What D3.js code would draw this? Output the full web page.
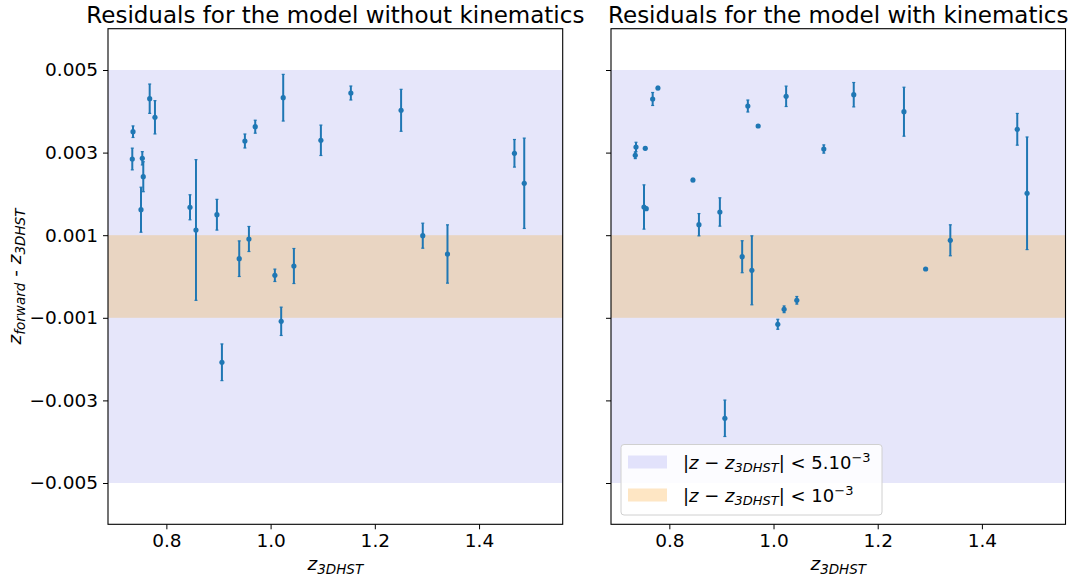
<!DOCTYPE html>
<html>
<head>
<meta charset="utf-8">
<script src="https://cdn.jsdelivr.net/npm/d3@7"></script>
<style>
  body { margin: 0; background: #fff; }
  svg { display: block; font-family: "DejaVu Sans", sans-serif; }
</style>
</head>
<body>
<svg id="chart" width="1077" height="581"></svg>
<script>
// ---- data ----
const zValues = [0.7346, 0.7360, 0.7513, 0.7538, 0.7557, 0.7680, 0.7781, 0.8453, 0.8568, 0.8970,
  0.9066, 0.9398, 0.9507, 0.9584, 0.9705, 1.0082, 1.0203, 1.0242, 1.0447, 1.0965,
  1.1540, 1.2504, 1.2920, 1.3394, 1.4679, 1.4867];

const residNoKin = [0.002845, 0.003506, 0.001617, 0.002862, 0.002416, 0.004305, 0.003855, 0.001676, 0.001126, 0.001496,
  -0.002077, 0.000431, 0.003281, 0.000908, 0.003627, 0.000029, -0.001085, 0.004329, 0.000254, 0.003298,
  0.004443, 0.004024, 0.000988, 0.000545, 0.002983, 0.002257];
const errNoKin = [0.000263, 0.000140, 0.000545, 0.000161, 0.000363, 0.000355, 0.000403, 0.000303, 0.001703, 0.000372,
  0.000444, 0.000431, 0.000169, 0.000303, 0.000157, 0.000150, 0.000343, 0.000565, 0.000424, 0.000368,
  0.000169, 0.000508, 0.000303, 0.000706, 0.000334, 0.001094];

const residKin = [0.002935, 0.003136, 0.001683, 0.003104, 0.001642, 0.004298, 0.004564, 0.002337, 0.001254, 0.001562,
  -0.003433, 0.000479, 0.004128, 0.000150, 0.003644, -0.001157, -0.000794, 0.004363, -0.000576, 0.003087,
  0.004402, 0.003990, 0.000182, 0.000877, 0.003564, 0.002015];
const errKin = [0.000080, 0.000114, 0.000536, 0.000030, 0.000030, 0.000157, 0.000040, 0.000040, 0.000270, 0.000343,
  0.000441, 0.000387, 0.000145, 0.000835, 0.000030, 0.000121, 0.000081, 0.000247, 0.000092, 0.000100,
  0.000295, 0.000593, 0.000030, 0.000375, 0.000384, 0.001363];

const xTicks = [0.8, 1.0, 1.2, 1.4];
const yTicks = [0.005, 0.003, 0.001, -0.001, -0.003, -0.005];
const titles = ["Residuals for the model without kinematics", "Residuals for the model with kinematics"];
const bandOuter = 0.005;
const bandInner = 0.001;

// ---- layout ----
const svg = d3.select("#chart");
const plotTop = 28.7, plotBottom = 524.3;
const panels = [
  { x0: 108, x1: 562.7, y: residNoKin, e: errNoKin, title: titles[0], labels: true },
  { x0: 611, x1: 1065.5, y: residKin, e: errKin, title: titles[1], labels: false }
];
const blue = "#1f77b4";
const lavender = "#e6e6fa";
const bandOrange = "#e9d5c2";
const fs = 18.5, subFs = 13.5;

const y = d3.scaleLinear().domain([-0.006, 0.006]).range([plotBottom, plotTop]);

panels.forEach((p, pi) => {
  const x = d3.scaleLinear().domain([0.688, 1.5605]).range([p.x0, p.x1]);
  const g = svg.append("g");

  // bands
  g.append("rect").attr("x", p.x0).attr("width", p.x1 - p.x0)
    .attr("y", y(bandOuter)).attr("height", y(-bandOuter) - y(bandOuter)).attr("fill", lavender);
  g.append("rect").attr("x", p.x0).attr("width", p.x1 - p.x0)
    .attr("y", y(bandInner)).attr("height", y(-bandInner) - y(bandInner)).attr("fill", bandOrange);

  // error bars
  const pts = zValues.map((z, i) => ({ z, v: p.y[i], e: p.e[i] }));
  const eb = g.append("g");
  eb.selectAll("line.err").data(pts).join("line").attr("class", "err")
    .attr("x1", d => x(d.z)).attr("x2", d => x(d.z))
    .attr("y1", d => y(d.v - d.e)).attr("y2", d => y(d.v + d.e))
    .attr("stroke", blue).attr("stroke-width", 2);
  ["lo", "hi"].forEach(k => {
    eb.selectAll("line.cap" + k).data(pts).join("line").attr("class", "cap" + k)
      .attr("x1", d => x(d.z) - 1.5).attr("x2", d => x(d.z) + 1.5)
      .attr("y1", d => y(k === "lo" ? d.v - d.e : d.v + d.e))
      .attr("y2", d => y(k === "lo" ? d.v - d.e : d.v + d.e))
      .attr("stroke", blue).attr("stroke-width", 1.2);
  });
  eb.selectAll("circle").data(pts).join("circle")
    .attr("cx", d => x(d.z)).attr("cy", d => y(d.v)).attr("r", 2.6).attr("fill", blue);

  // axes
  const xAxis = d3.axisBottom(x).tickValues(xTicks).tickFormat(d3.format(".1f")).tickSize(5).tickPadding(5);
  const ax = g.append("g").attr("transform", `translate(0,${plotBottom})`).call(xAxis);
  ax.select(".domain").remove();
  ax.selectAll("text").attr("font-size", fs).attr("fill", "#000").attr("font-family", "DejaVu Sans");
  ax.selectAll("line").attr("stroke", "#000").attr("stroke-width", 1);

  const yAxis = d3.axisLeft(y).tickValues(yTicks).tickSize(5).tickPadding(5)
    .tickFormat(p.labels ? d3.format(".3f") : () => "");
  const ay = g.append("g").attr("transform", `translate(${p.x0},0)`).call(yAxis);
  ay.select(".domain").remove();
  ay.selectAll("text").attr("font-size", fs).attr("fill", "#000").attr("font-family", "DejaVu Sans");
  ay.selectAll("line").attr("stroke", "#000").attr("stroke-width", 1);

  // frame
  g.append("rect").attr("x", p.x0).attr("y", plotTop).attr("width", p.x1 - p.x0).attr("height", plotBottom - plotTop)
    .attr("fill", "none").attr("stroke", "#000").attr("stroke-width", 1.1);

  // title
  g.append("text").attr("x", (p.x0 + p.x1) / 2).attr("y", 23).attr("text-anchor", "middle")
    .attr("font-size", 23).attr("fill", "#000").text(p.title);

  // x label
  const xl = g.append("text").attr("x", (p.x0 + p.x1) / 2).attr("y", 570).attr("text-anchor", "middle")
    .attr("font-size", fs).attr("fill", "#000");
  xl.append("tspan").attr("font-style", "italic").text("z");
  xl.append("tspan").attr("font-style", "italic").attr("font-size", subFs).attr("dy", 3.5).text("3DHST");
});

// y label
const yl = svg.append("text").attr("transform", `translate(21,${(plotTop + plotBottom) / 2}) rotate(-90)`)
  .attr("text-anchor", "middle").attr("font-size", fs).attr("fill", "#000");
yl.append("tspan").attr("font-style", "italic").text("z");
yl.append("tspan").attr("font-style", "italic").attr("font-size", subFs).attr("dy", 3.5).text("forward");
yl.append("tspan").attr("dy", -3.5).text(" - ");
yl.append("tspan").attr("font-style", "italic").text("z");
yl.append("tspan").attr("font-style", "italic").attr("font-size", subFs).attr("dy", 3.5).text("3DHST");

// legend
const legendItems = [
  { color: "#e2e2fb", sup: "5.10", exp: "−3" },
  { color: "#fee6c4", sup: "10", exp: "−3" }
];
const lg = svg.append("g");
lg.append("rect").attr("x", 621).attr("y", 444.5).attr("width", 261).attr("height", 70.5)
  .attr("rx", 3).attr("fill", "#fff").attr("fill-opacity", 0.85).attr("stroke", "#d0d0d0").attr("stroke-width", 1);
legendItems.forEach((it, i) => {
  const cy = 462 + i * 33;
  lg.append("rect").attr("x", 628).attr("y", cy - 6.5).attr("width", 39).attr("height", 13).attr("fill", it.color);
  const t = lg.append("text").attr("x", 683).attr("y", cy + 6.5).attr("font-size", 18).attr("fill", "#000");
  t.append("tspan").text("|");
  t.append("tspan").attr("font-style", "italic").text("z");
  t.append("tspan").text(" − ");
  t.append("tspan").attr("font-style", "italic").text("z");
  t.append("tspan").attr("font-style", "italic").attr("font-size", 13).attr("dy", 3).text("3DHST");
  t.append("tspan").attr("dy", -3).text("| < " + it.sup);
  t.append("tspan").attr("font-size", 13).attr("dy", -7).text(it.exp);
});
</script>
</body>
</html>
